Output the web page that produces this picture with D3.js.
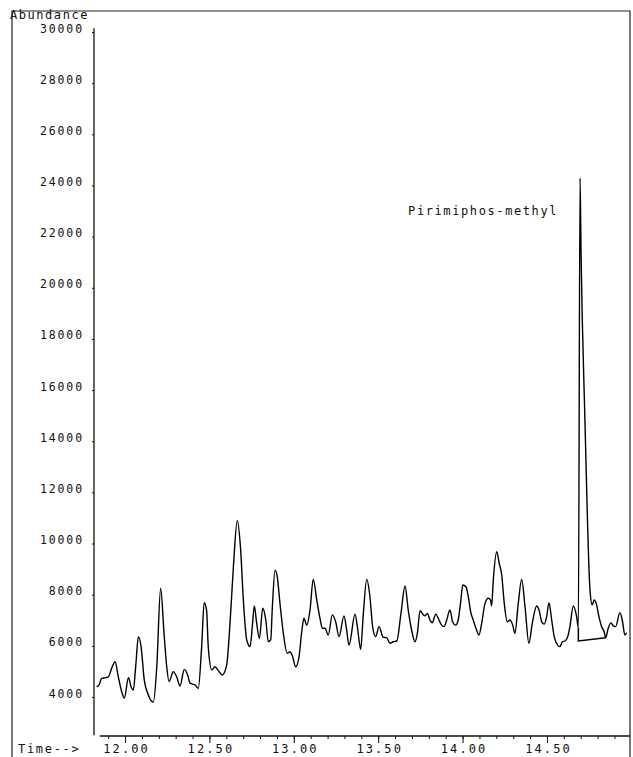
<!DOCTYPE html>
<html>
<head>
<meta charset="utf-8">
<script src="https://cdn.jsdelivr.net/npm/d3@7"></script>
<style>
  body { margin: 0; background: #fff; }
  text { font-family: "DejaVu Sans Mono", monospace; fill: #111; }
</style>
</head>
<body>
<div id="chart"></div>
<script>
// retention time (min) and abundance
const time = [11.832, 11.846, 11.862, 11.882, 11.901, 11.921, 11.941, 11.960, 11.980, 11.996,
  12.020, 12.036, 12.049, 12.063, 12.079, 12.095, 12.114, 12.138, 12.168, 12.188,
  12.211, 12.231, 12.247, 12.261, 12.286, 12.306, 12.326, 12.351, 12.371, 12.385,
  12.415, 12.434, 12.454, 12.469, 12.483, 12.493, 12.514, 12.533, 12.553, 12.576,
  12.602, 12.622, 12.642, 12.665, 12.685, 12.701, 12.721, 12.741, 12.754, 12.766,
  12.780, 12.796, 12.816, 12.834, 12.849, 12.863, 12.873, 12.889, 12.902, 12.918,
  12.938, 12.961, 12.977, 12.993, 13.011, 13.031, 13.047, 13.060, 13.076, 13.096,
  13.115, 13.136, 13.155, 13.169, 13.185, 13.204, 13.228, 13.248, 13.268, 13.297,
  13.313, 13.327, 13.363, 13.379, 13.396, 13.412, 13.432, 13.451, 13.467, 13.485,
  13.505, 13.530, 13.550, 13.570, 13.589, 13.610, 13.635, 13.659, 13.678, 13.698,
  13.718, 13.732, 13.748, 13.767, 13.777, 13.791, 13.807, 13.820, 13.841, 13.856,
  13.876, 13.890, 13.906, 13.925, 13.941, 13.959, 13.974, 13.989, 14.001, 14.020,
  14.034, 14.048, 14.063, 14.079, 14.097, 14.113, 14.133, 14.152, 14.166, 14.172,
  14.182, 14.202, 14.217, 14.232, 14.247, 14.265, 14.281, 14.297, 14.310, 14.330,
  14.350, 14.370, 14.393, 14.413, 14.439, 14.453, 14.469, 14.484, 14.498, 14.512,
  14.528, 14.543, 14.563, 14.577, 14.591, 14.607, 14.623, 14.636, 14.656, 14.676,
  14.686, 14.696, 14.702, 14.725, 14.755, 14.768, 14.780, 14.794, 14.808, 14.824,
  14.839, 14.848, 14.863, 14.879, 14.893, 14.907, 14.932, 14.946, 14.962, 14.972]

const abundance = [4400, 4470, 4730, 4750, 4790, 5130, 5380, 4790, 4210, 3960,
  4750, 4400, 4270, 5180, 6360, 5970, 4660, 4080, 3800, 5180,
  8250, 6490, 5180, 4600, 4990, 4790, 4430, 5080, 4860, 4540,
  4470, 4340, 5970, 7690, 7400, 5970, 5060, 5180, 5030, 4860,
  5250, 6880, 9090, 10890, 9750, 7790, 6230, 5970, 6750, 7560,
  6880, 6290, 7470, 7010, 6160, 6230, 7530, 8960, 8700, 7660,
  6490, 5710, 5770, 5580, 5180, 5580, 6550, 7080, 6810, 7400,
  8600, 7790, 7080, 6690, 6690, 6420, 7210, 6940, 6360, 7170,
  6620, 6030, 7240, 6620, 5860, 7270, 8600, 7920, 6750, 6360,
  6750, 6330, 6320, 6100, 6160, 6190, 7270, 8340, 7400, 6620,
  6160, 6490, 7370, 7210, 7170, 7270, 7010, 6900, 7240, 7070,
  6810, 6750, 7010, 7400, 6940, 6810, 7010, 7730, 8380, 8310,
  7920, 7330, 7010, 6690, 6420, 6880, 7660, 7860, 7790, 7560,
  8570, 9680, 9230, 8770, 7660, 6940, 7010, 6810, 6490, 7660,
  8600, 7530, 6100, 6880, 7560, 7400, 6940, 6850, 7140, 7690,
  7010, 6360, 6030, 5970, 6160, 6190, 6360, 6750, 7560, 7130,
  6700, 24290, 21360, 14830, 8180, 7600, 7790, 7600, 7140, 6750,
  6550, 6320, 6690, 6900, 6780, 6750, 7300, 7010, 6420, 6510]

// integration box under the big peak
const baseTime = [14.686, 14.686, 14.848]
const baseAbund = [6700, 6190, 6320]

const yTicks = d3.range(4000, 30001, 2000)
const xMajor = [12.0, 12.5, 13.0, 13.5, 14.0, 14.5]
const xMinor = d3.range(119, 150).map(d => d / 10)

const peakName = "Pirimiphos-methyl"
const peakAt = [13.677, 22840]

const W = 633, H = 757

const svg = d3.select("#chart").append("svg")
  .attr("width", W)
  .attr("height", H)

const x = d3.scaleLinear().domain([11.822, 14.992]).range([95, 630])
const y = d3.scaleLinear().domain([4000, 30000]).range([697, 32])

// page frame
svg.append("path")
  .attr("d", "M12,757 L12,11 L630,11 L630,757")
  .attr("fill", "none")
  .attr("stroke", "#222")
  .attr("stroke-width", 1.2)

// y axis
const yAxis = svg.append("g")
  .attr("transform", "translate(94,0)")
  .call(d3.axisLeft(y).tickValues(yTicks).tickSize(2).tickPadding(8)
    .tickSizeOuter(0).tickFormat(d3.format("d")))
yAxis.select(".domain").remove()
yAxis.append("line")
  .attr("x1", 0).attr("x2", 0)
  .attr("y1", y(30150)).attr("y2", y(2500))
  .attr("stroke", "#111").attr("stroke-width", 1.3)
yAxis.selectAll("text")
  .attr("dy", "0")
  .style("font-size", "11.5px")
  .style("letter-spacing", "1.9px")
  .attr("fill", "#111")

// x axis: minor then major ticks
const xAxisY = 736
const xMinorG = svg.append("g")
  .attr("transform", `translate(0,${xAxisY})`)
  .call(d3.axisBottom(x).tickValues(xMinor).tickSize(3).tickFormat(""))
xMinorG.select(".domain").remove()

const xAxis = svg.append("g")
  .attr("transform", `translate(0,${xAxisY})`)
  .call(d3.axisBottom(x).tickValues(xMajor).tickSize(7).tickFormat(d3.format(".2f")))
xAxis.select(".domain").remove()
xAxis.append("line")
  .attr("x1", x(11.85)).attr("x2", x(14.992))
  .attr("y1", 0).attr("y2", 0)
  .attr("stroke", "#111").attr("stroke-width", 1.3)
xAxis.selectAll("text")
  .attr("y", 17)
  .attr("dy", "0")
  .attr("dx", "1px")
  .style("font-size", "12px")
  .style("letter-spacing", "2.1px")
  .attr("fill", "#111")

svg.selectAll(".tick line").attr("stroke", "#111")

// axis titles
svg.append("text")
  .attr("x", 10).attr("y", 19)
  .style("font-size", "12px")
  .style("letter-spacing", "1.55px")
  .text("Abundance")

svg.append("text")
  .attr("x", 18).attr("y", 753)
  .style("font-size", "12px")
  .style("letter-spacing", "1.7px")
  .text("Time-->")

// chromatogram trace
const line = d3.line()
  .x((d, i) => x(time[i]))
  .y(d => y(d))
  .curve(d3.curveMonotoneX)

svg.append("path")
  .datum(abundance)
  .attr("d", line)
  .attr("fill", "none")
  .attr("stroke", "#000")
  .attr("stroke-width", 1.4)
  .attr("stroke-linejoin", "round")

svg.append("path")
  .datum(baseAbund)
  .attr("d", d3.line().x((d, i) => x(baseTime[i])).y(d => y(d)))
  .attr("fill", "none")
  .attr("stroke", "#000")
  .attr("stroke-width", 1.5)

svg.append("text")
  .attr("x", x(peakAt[0]))
  .attr("y", y(peakAt[1]))
  .style("font-size", "12px")
  .style("letter-spacing", "1.6px")
  .text(peakName)
</script>
</body>
</html>
